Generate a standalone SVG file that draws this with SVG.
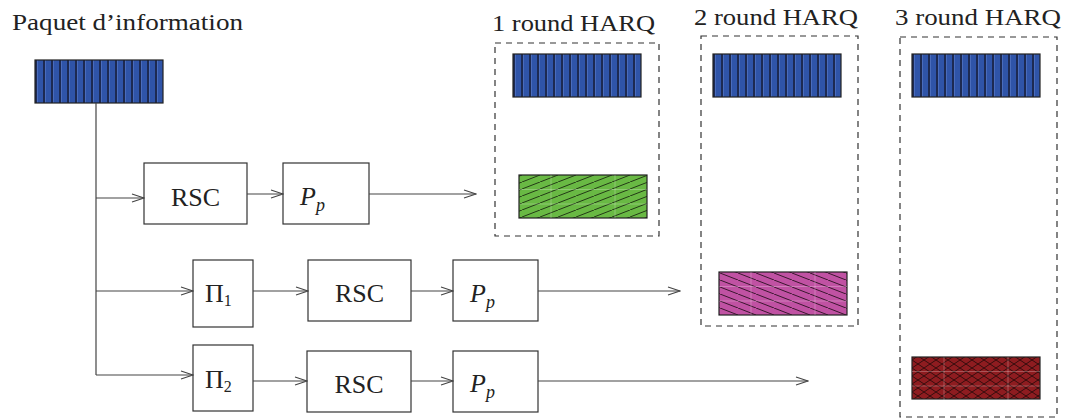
<svg xmlns="http://www.w3.org/2000/svg" width="1065" height="419" viewBox="0 0 1065 419">
<style>
.t{font-family:"Liberation Serif","Times New Roman",serif;font-size:24px;fill:#222}
.b{font-family:"Liberation Serif","Times New Roman",serif;font-size:26px;fill:#222}
.box{fill:#fff;stroke:#333;stroke-width:1.2}
.dash{fill:none;stroke:#333;stroke-width:1.2;stroke-dasharray:6 5}
.ln{fill:none;stroke:#444;stroke-width:1.2}
.blk{stroke:#222;stroke-width:1.2}
.grid{stroke:#fff;stroke-opacity:0.25;stroke-width:1;fill:none}
</style>
<defs>
<pattern id="stripes" patternUnits="userSpaceOnUse" width="8" height="43">
<rect width="8" height="43" fill="#2f54a8"/>
<rect x="0" width="2" height="43" fill="#1d2a52"/>
<rect x="2" width="1" height="43" fill="#4a6cbc"/>
</pattern>
<pattern id="green" patternUnits="userSpaceOnUse" width="18" height="7">
<rect width="18" height="7" fill="#69b944"/>
<path d="M-1,7.4 L19,-0.4" stroke="#1a2a10" stroke-width="0.9"/>
</pattern>
<pattern id="pink" patternUnits="userSpaceOnUse" width="18" height="7">
<rect width="18" height="7" fill="#c052a3"/>
<path d="M-1,-0.4 L19,7.4" stroke="#2a1020" stroke-width="0.9"/>
</pattern>
<pattern id="red" patternUnits="userSpaceOnUse" width="12" height="8">
<rect width="12" height="8" fill="#8e1c20"/>
<path d="M0,0 L12,8 M0,8 L12,0" stroke="#2a0a0a" stroke-width="0.9"/>
</pattern>
<g id="blueblk">
<rect x="0" y="0" width="128" height="43" fill="url(#stripes)" class="blk"/>
</g>
<path id="gridl" class="grid" d="M0,14.5 H128 M0,29 H128 M32,0 V43 M96,0 V43"/>
<marker id="arr" markerWidth="14" markerHeight="10" refX="13" refY="5" orient="auto" markerUnits="userSpaceOnUse">
<path d="M1,1 L13,5 L1,9" fill="none" stroke="#444" stroke-width="1.1"/>
</marker>
</defs>

<g id="labels">
<text class="t" font-family="Liberation Serif, serif" x="12" y="30" textLength="231" lengthAdjust="spacingAndGlyphs">Paquet d’information</text>
<text class="t" font-family="Liberation Serif, serif" x="492" y="31" textLength="163" lengthAdjust="spacingAndGlyphs">1 round HARQ</text>
<text class="t" font-family="Liberation Serif, serif" x="694" y="25" textLength="164" lengthAdjust="spacingAndGlyphs">2 round HARQ</text>
<text class="t" font-family="Liberation Serif, serif" x="895" y="25" textLength="166" lengthAdjust="spacingAndGlyphs">3 round HARQ</text>
</g>

<g id="packet">
<use href="#blueblk" x="35" y="60"/>
</g>

<g id="harq1">
<rect class="dash" x="495" y="43" width="164" height="193"/>
<use href="#blueblk" x="513" y="54"/>
<rect x="519" y="175" width="128" height="43" fill="url(#green)" class="blk"/>
<use href="#gridl" x="519" y="175"/>
</g>
<g id="harq2">
<rect class="dash" x="701" y="36" width="157" height="290"/>
<use href="#blueblk" x="713" y="54"/>
<rect x="719" y="272" width="128" height="43" fill="url(#pink)" class="blk"/>
<use href="#gridl" x="719" y="272"/>
</g>
<g id="harq3">
<rect class="dash" x="900" y="37" width="157" height="380"/>
<use href="#blueblk" x="912" y="54"/>
<rect x="912" y="357" width="128" height="42" fill="url(#red)" class="blk"/>
<use href="#gridl" x="912" y="357"/>
</g>

<g id="rsc1"><rect class="box" x="144" y="163" width="103" height="61"/><text class="b" font-family="Liberation Serif, serif" x="195.5" y="206" text-anchor="middle">RSC</text></g>
<g id="pp1"><rect class="box" x="283" y="163" width="86" height="61"/><text class="b" font-family="Liberation Serif, serif" x="300" y="205"><tspan font-style="italic">P</tspan><tspan font-style="italic" font-size="18" dy="6">p</tspan></text></g>

<g id="pi1"><rect class="box" x="193" y="260" width="60" height="67"/><text class="b" font-family="Liberation Serif, serif" x="205" y="302">Π<tspan font-size="16" dy="4">1</tspan></text></g>
<g id="rsc2"><rect class="box" x="308" y="260" width="103" height="61"/><text class="b" font-family="Liberation Serif, serif" x="359.5" y="302" text-anchor="middle">RSC</text></g>
<g id="pp2"><rect class="box" x="453" y="260" width="85" height="61"/><text class="b" font-family="Liberation Serif, serif" x="470" y="302"><tspan font-style="italic">P</tspan><tspan font-style="italic" font-size="18" dy="6">p</tspan></text></g>

<g id="pi2"><rect class="box" x="193" y="345" width="60" height="66"/><text class="b" font-family="Liberation Serif, serif" x="205" y="388">Π<tspan font-size="16" dy="4">2</tspan></text></g>
<g id="rsc3"><rect class="box" x="307" y="351" width="104" height="61"/><text class="b" font-family="Liberation Serif, serif" x="359" y="393" text-anchor="middle">RSC</text></g>
<g id="pp3"><rect class="box" x="453" y="351" width="85" height="61"/><text class="b" font-family="Liberation Serif, serif" x="470" y="392"><tspan font-style="italic">P</tspan><tspan font-style="italic" font-size="18" dy="6">p</tspan></text></g>

<g id="connectors">
<path class="ln" d="M96,103 V375"/>
<path class="ln" d="M96,198 H144" marker-end="url(#arr)"/>
<path class="ln" d="M247,194 H283" marker-end="url(#arr)"/>
<path class="ln" d="M369,194 H476" marker-end="url(#arr)"/>
<path class="ln" d="M96,291 H193" marker-end="url(#arr)"/>
<path class="ln" d="M253,291 H308" marker-end="url(#arr)"/>
<path class="ln" d="M411,291 H453" marker-end="url(#arr)"/>
<path class="ln" d="M538,291 H680" marker-end="url(#arr)"/>
<path class="ln" d="M96,375 H193" marker-end="url(#arr)"/>
<path class="ln" d="M253,381 H307" marker-end="url(#arr)"/>
<path class="ln" d="M411,381 H453" marker-end="url(#arr)"/>
<path class="ln" d="M538,381 H808" marker-end="url(#arr)"/>
</g>
</svg>
